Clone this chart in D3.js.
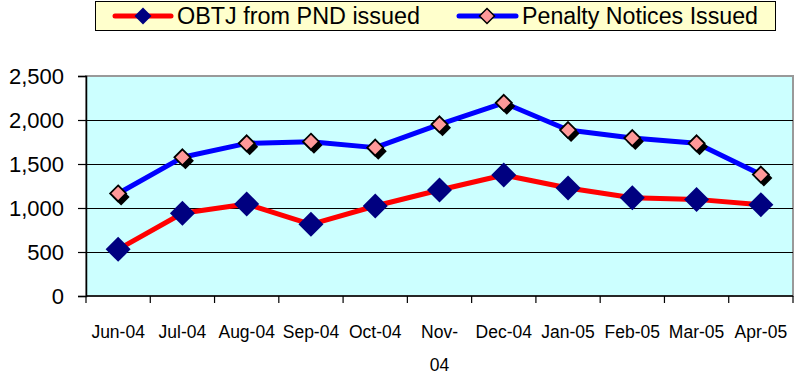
<!DOCTYPE html>
<html>
<head>
<meta charset="utf-8">
<script src="https://cdn.jsdelivr.net/npm/d3@7/dist/d3.min.js"></script>
<style>
  html, body { margin: 0; padding: 0; background: #ffffff; }
  svg { display: block; font-family: "Liberation Sans", Arial, sans-serif; }
</style>
</head>
<body>
<svg id="chart" width="800" height="380"></svg>
<script>
// ---- data ----
const months = ["Jun-04","Jul-04","Aug-04","Sep-04","Oct-04","Nov-04","Dec-04","Jan-05","Feb-05","Mar-05","Apr-05"];
const wrappedMonths = ["Nov-04"];           // labels Excel wrapped onto two lines
const obtjValues    = [530, 940, 1045, 815, 1023, 1205, 1375, 1227, 1117, 1098, 1038];
const penaltyValues = [1165, 1576, 1735, 1754, 1686, 1951, 2195, 1886, 1795, 1735, 1380];
const yTicks = [0, 500, 1000, 1500, 2000, 2500];
const seriesNames = ["OBTJ from PND issued", "Penalty Notices Issued"];

// ---- layout ----
const svg = d3.select("#chart");
const plot = { left: 86, right: 793, top: 76, bottom: 296 };

const x = d3.scaleBand().domain(months).range([plot.left, plot.right]).padding(0);
const y = d3.scaleLinear().domain([0, 2500]).range([plot.bottom, plot.top]);
const cx = d => x(d) + x.bandwidth() / 2;

// plot background
svg.append("rect")
  .attr("x", plot.left).attr("y", plot.top)
  .attr("width", plot.right - plot.left).attr("height", plot.bottom - plot.top)
  .attr("fill", "#CCFFFF")
  .attr("stroke", "#999999").attr("stroke-width", 2);

// gridlines
svg.append("g").selectAll("line").data(yTicks.filter(t => t > 0 && t < 2500)).join("line")
  .attr("x1", plot.left).attr("x2", plot.right)
  .attr("y1", d => Math.round(y(d)) + 0.5).attr("y2", d => Math.round(y(d)) + 0.5)
  .attr("stroke", "#000").attr("stroke-width", 1);

// y axis
const yAxis = svg.append("g")
  .attr("transform", `translate(${plot.left},0)`)
  .call(d3.axisLeft(y).tickValues(yTicks).tickFormat(d3.format(",")).tickSize(8).tickPadding(14));
yAxis.select(".domain").attr("stroke", "#000").attr("stroke-width", 1.5);
yAxis.selectAll(".tick line").attr("stroke", "#000").attr("stroke-width", 1.2);
yAxis.selectAll(".tick text")
  .attr("font-family", "Liberation Sans, Arial, sans-serif")
  .attr("font-size", 22).attr("fill", "#000");

// x axis line
svg.append("line")
  .attr("x1", plot.left).attr("x2", plot.right)
  .attr("y1", plot.bottom).attr("y2", plot.bottom)
  .attr("stroke", "#000").attr("stroke-width", 1.5);

// x tick marks at category boundaries
const boundaries = months.map(m => x(m)).concat([plot.right]);
svg.append("g").selectAll("line").data(boundaries).join("line")
  .attr("x1", d => d).attr("x2", d => d)
  .attr("y1", plot.bottom).attr("y2", plot.bottom + 7)
  .attr("stroke", "#000").attr("stroke-width", 1.2);

// x labels
const xl = svg.append("g").selectAll("text").data(months).join("text")
  .attr("x", d => cx(d)).attr("y", 338)
  .attr("text-anchor", "middle")
  .attr("font-size", 17.5).attr("fill", "#000");
xl.each(function(d) {
  const t = d3.select(this);
  if (wrappedMonths.includes(d)) {
    const i = d.indexOf("-");
    t.append("tspan").attr("x", cx(d)).text(d.slice(0, i + 1));
    t.append("tspan").attr("x", cx(d)).attr("dy", 33).text(d.slice(i + 1));
  } else {
    t.text(d);
  }
});

// ---- series ----
const line = d3.line().x((d, i) => cx(months[i])).y(d => y(d));

const diamond = (r) => `M0,${-r}L${r},0L0,${r}L${-r},0Z`;

// penalty (blue)
svg.append("path").datum(penaltyValues)
  .attr("d", line).attr("fill", "none")
  .attr("stroke", "#0000FF").attr("stroke-width", 5).attr("stroke-linejoin", "round");
const pm = svg.append("g").selectAll("g").data(penaltyValues).join("g")
  .attr("transform", (d, i) => `translate(${cx(months[i])},${y(d)})`);
pm.append("path").attr("d", diamond(8.5)).attr("transform", "translate(3,3.5)").attr("fill", "#000");
pm.append("path").attr("d", diamond(8)).attr("fill", "#FF9999").attr("stroke", "#000").attr("stroke-width", 1.8);

// OBTJ (red)
svg.append("path").datum(obtjValues)
  .attr("d", line).attr("fill", "none")
  .attr("stroke", "#FF0000").attr("stroke-width", 5).attr("stroke-linejoin", "round");
svg.append("g").selectAll("path").data(obtjValues).join("path")
  .attr("transform", (d, i) => `translate(${cx(months[i])},${y(d)})`)
  .attr("d", diamond(12.5)).attr("fill", "#000080");

// ---- legend ----
const lg = svg.append("g");
lg.append("rect").attr("x", 95.5).attr("y", 1.5).attr("width", 680).attr("height", 29)
  .attr("fill", "#FFFFCC").attr("stroke", "#000").attr("stroke-width", 1);

// item 1
lg.append("line").attr("x1", 115).attr("x2", 171).attr("y1", 16).attr("y2", 16)
  .attr("stroke", "#FF0000").attr("stroke-width", 5).attr("stroke-linecap", "round");
lg.append("path").attr("d", diamond(8.5)).attr("transform", "translate(143,16)").attr("fill", "#000080");
lg.append("text").attr("x", 177).attr("y", 24).attr("font-size", 23)
  .attr("textLength", 243).attr("lengthAdjust", "spacingAndGlyphs")
  .attr("fill", "#000").text(seriesNames[0]);

// item 2
lg.append("line").attr("x1", 459).attr("x2", 516).attr("y1", 16).attr("y2", 16)
  .attr("stroke", "#0000FF").attr("stroke-width", 5).attr("stroke-linecap", "round");
lg.append("path").attr("d", diamond(7.5)).attr("transform", "translate(487,16)")
  .attr("fill", "#FF9999").attr("stroke", "#000").attr("stroke-width", 1.5);
lg.append("text").attr("x", 522).attr("y", 24).attr("font-size", 23)
  .attr("textLength", 236).attr("lengthAdjust", "spacingAndGlyphs")
  .attr("fill", "#000").text(seriesNames[1]);
</script>
</body>
</html>
